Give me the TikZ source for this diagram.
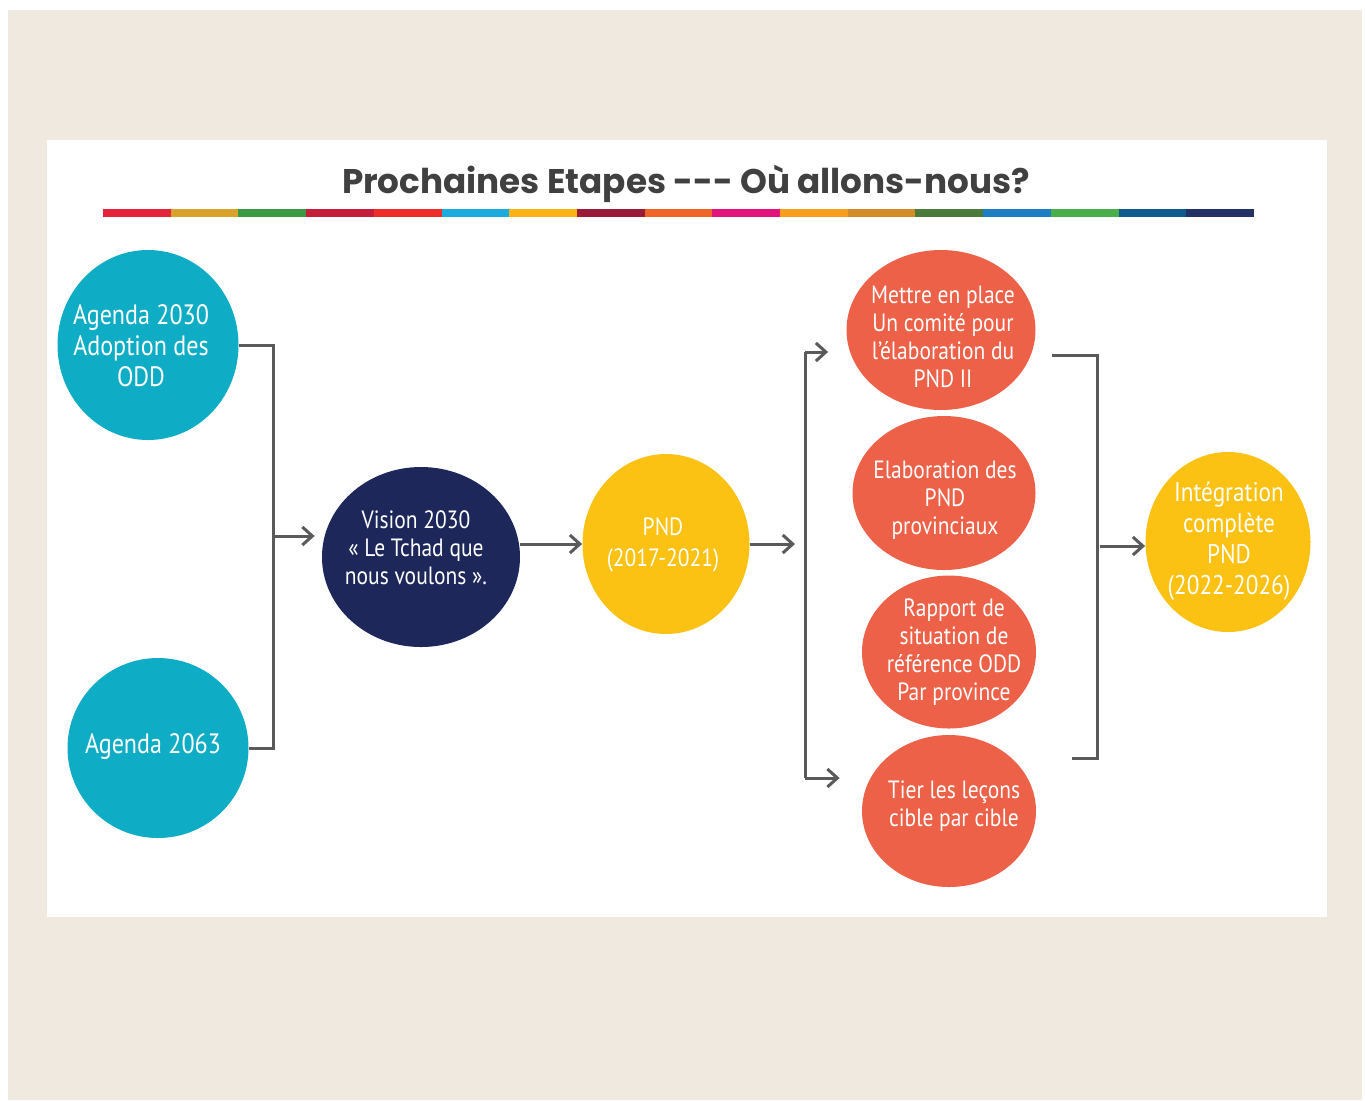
\documentclass[tikz,border=0pt]{standalone}
\usepackage{fontspec}
\usetikzlibrary{arrows.meta,positioning,shapes.geometric}
\newfontfamily\titlefont{Poppins}
\newfontfamily\circfont[FakeStretch=0.86]{PT Sans}
\definecolor{bgColor}{HTML}{F0E9DF}
\definecolor{tealColor}{HTML}{0EADC5}
\definecolor{navyColor}{HTML}{1D275A}
\definecolor{sunColor}{HTML}{FBC113}
\definecolor{coralColor}{HTML}{EC6148}
\definecolor{lineColor}{HTML}{5A5A5A}
\definecolor{titleColor}{HTML}{404040}
\tikzset{
	etape/.style={ellipse, inner sep=0},
	etxt/.style={inner sep=0, text=white, align=center,
		font=\circfont\fontsize{12.5}{14}\selectfont},
	big/.style={font=\circfont\fontsize{14}{15.5}\selectfont},
	conn/.style={draw=lineColor, line width=1.5pt},
	arr/.style={conn, -{Straight Barb[length=5pt,width=9pt,line width=1.5pt]}}
}
\begin{document}
\begin{tikzpicture}[x=0.5pt,y=-0.5pt]
\useasboundingbox (0,0) rectangle (1365,1100);
\fill[bgColor] (8,10) rectangle (1362,1100);
\fill[white] (47,140) rectangle (1327,917);
\node[text=titleColor, font=\titlefont\bfseries\fontsize{17.1}{19}\selectfont] (title) at (686,184) {Prochaines Etapes --- Où allons-nous?};
\foreach \c [count=\i from 0] in {E5243B,D9A22A,3A9A44,C41E3A,EE2D2A,1BABDF,FCB415,9A1B37,F06427,E3137C,F99D1C,D38C2A,4B7A3A,1C7FC3,48AF4C,0F5B8E,223264}{
	\definecolor{sdgColor}{HTML}{\c}
	\fill[sdgColor] ({103+\i*67.7},209) rectangle ++(67.7,8);
}
\node[etape, fill=tealColor, minimum width=90.5pt, minimum height=95pt] (a1) at (148,345) {};
\node[etape, fill=tealColor, minimum width=90.5pt, minimum height=90pt] (a2) at (158,748) {};
\node[etape, fill=navyColor, minimum width=99pt, minimum height=90pt] (vision) at (421,557) {};
\node[etape, fill=sunColor, minimum width=83.5pt, minimum height=90pt] (pnd) at (666,544) {};
\node[etape, fill=coralColor, minimum width=94.5pt, minimum height=80pt] (m1) at (941,330) {};
\node[etape, fill=coralColor, minimum width=91.5pt, minimum height=77pt] (m2) at (944,493) {};
\node[etape, fill=coralColor, minimum width=87pt, minimum height=76.5pt] (m3) at (949,652) {};
\node[etape, fill=coralColor, minimum width=87pt, minimum height=76pt] (m4) at (949,811) {};
\node[etape, fill=sunColor, minimum width=82.5pt, minimum height=90pt] (integ) at (1228,542) {};
\node[etxt, big] (a1txt) at (141,346) {Agenda 2030\\Adoption des\\ODD};
\node[etxt, big] (a2txt) at (153,746.5) {Agenda 2063};
\node[etxt] (visiontxt) at (416,548) {Vision 2030\\« Le Tchad que\\nous voulons ».};
\node[etxt, font=\circfont\fontsize{12.5}{15.5}\selectfont] (pndtxt) at (663,545) {PND\\(2017-2021)};
\node[etxt] (m1txt) at (943,337) {Mettre en place\\Un comité pour\\l’élaboration du\\PND II};
\node[etxt] (m2txt) at (945,500) {Elaboration des\\PND\\provinciaux};
\node[etxt] (m3txt) at (954,652) {Rapport de\\situation de\\référence ODD\\Par province};
\node[etxt] (m4txt) at (954,806) {Tier les leçons\\cible par cible};
\node[etxt, font=\circfont\fontsize{13.5}{15.5}\selectfont] (integtxt) at (1229,541) {Intégration\\complète\\PND\\(2022-2026)};
\coordinate (jl) at (273,536);
\coordinate (fan) at (805,544);
\coordinate (ft) at (805,352);
\coordinate (fb) at (805,778);
\coordinate (rt) at (1097,355);
\coordinate (rb) at (1097,758);
\coordinate (rm) at (1097,546);
\draw[conn] (a1.east) -| (jl) |- (a2.east);
\draw[arr, shorten >=3.5pt] (jl) -- (vision.west |- jl);
\draw[arr] (vision.east |- pnd) -- (pnd);
\draw[arr, shorten >=5pt] (pnd) -- (fan);
\draw[conn] (ft) -- (fb);
\draw[arr, shorten >=9pt] (ft) -- (m1.west |- ft);
\draw[arr, shorten >=11pt] (fb) -- (m4.west |- fb);
\draw[conn] ([xshift=8pt]m1.east |- rt) -- (rt) -- (rb) -- ([xshift=18pt]m4.east |- rb);
\draw[arr, shorten <=1.5pt] (rm) -- (integ.west |- rm);
\end{tikzpicture}
\end{document}
